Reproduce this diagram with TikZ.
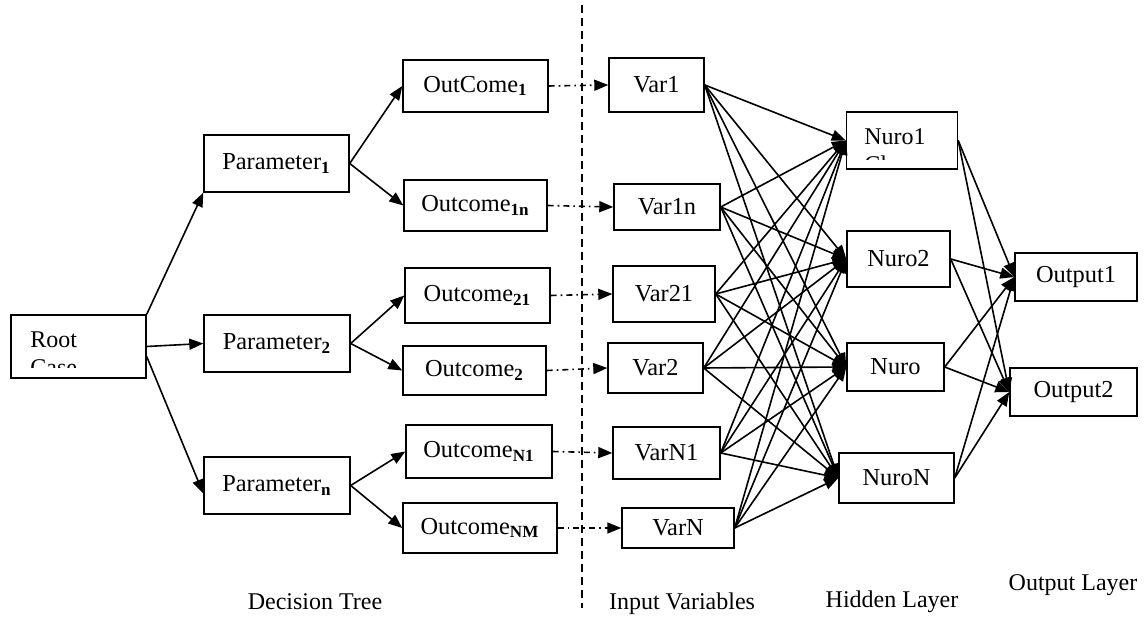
\documentclass[tikz,border=0pt]{standalone}
\usepackage{fontspec}
\setmainfont{Liberation Serif}
\usetikzlibrary{arrows.meta}
\newcommand{\sub}[1]{\textsubscript{\textbf{#1}}}
\tikzset{
  >={Triangle[length=7pt,width=5.5pt]},
  box/.style n args={2}{draw,line width=0.7pt,minimum width=#1*0.5pt,
    minimum height=#2*0.5pt,inner sep=0pt,font=\fontsize{12.2}{14}\selectfont},
  link/.style={->,line width=0.8pt},
  feed/.style={->,line width=0.8pt,dash pattern=on 3pt off 2pt on 0.8pt off 2pt},
  caption/.style={font=\fontsize{12}{14}\selectfont},
}
\begin{document}
\begin{tikzpicture}[x=0.5pt,y=-0.5pt]
  \useasboundingbox (0,0) rectangle (1148,619);
  % decision tree
  \node[box={135}{63}] (root) at (78.5,346.5) {};
  \begin{scope}
    \clip (11,316) rectangle (146,368);
    \node[anchor=north west,inner sep=0pt,align=left,caption] (rootlbl) at (30,331) {Root\\Case};
  \end{scope}
  \foreach \n/\x/\y/\w/\h/\t in {
    P1/276.5/163.5/145/57/{Parameter\sub{1}},
    P2/277/343.5/146/57/{Parameter\sub{2}},
    Pn/277/485.5/146/57/{Parameter\sub{n}},
    O1/475.5/86/145/52/{OutCome\sub{1}},
    O1n/475.5/205.5/143/51/{Outcome\sub{1n}},
    O21/477.5/295.5/145/55/{Outcome\sub{21}},
    O2/474.5/370.5/143/49/{Outcome\sub{2}},
    ON1/479/451.5/146/53/{Outcome\sub{N1}},
    ONM/480/528/154/50/{Outcome\sub{NM}}}
    \node[box={\w}{\h}] (\n) at (\x,\y) {\t};
  % input variables
  \foreach \n/\x/\y/\w/\h/\t in {
    V1/656.5/85/95/54/Var1,
    V1n/667/207/106/46/Var1n,
    V21/664/294/102/56/Var21,
    V2/655.5/368/95/50/Var2,
    VN1/666.5/453/107/52/VarN1,
    VN/678/528/112/40/VarN}
    \node[box={\w}{\h}] (\n) at (\x,\y) {\t};
  % hidden and output layer
  \node[box={111}{57}] (H1) at (902,140.5) {};
  \begin{scope}
    \clip (847,113) rectangle (956,160);
    \node[anchor=north west,inner sep=0pt,align=left,caption] (H1lbl) at (864,128) {Nuro1\\Class};
  \end{scope}
  \foreach \n/\x/\y/\w/\h/\t in {
    H2/898.5/259/103/56/Nuro2,
    H3/895.5/367/97/48/Nuro,
    H4/896.5/478/115/50/NuroN,
    Y1/1076/277/122/48/Output1,
    Y2/1073.5/392/127/48/Output2}
    \node[box={\w}{\h}] (\n) at (\x,\y) {\t};

  \draw[link] (root.north east) -- (P1.south west);
  \draw[link] (root.east) -- (P2.west);
  \draw[link] ([yshift=-5pt]root.east) -- ([yshift=-4pt]Pn.west);
  \draw[link] (P1.east) -- (O1.west);
  \draw[link] (P1.east) -- (O1n.west);
  \draw[link] (P2.east) -- (O21.west);
  \draw[link] (P2.east) -- (O2.west);
  \draw[link] (Pn.east) -- (ON1.west);
  \draw[link] (Pn.east) -- (ONM.west);
  \foreach \a/\b in {O1/V1,O1n/V1n,O21/V21,O2/V2,ON1/VN1,ONM/VN}
    \draw[feed] (\a.east) -- (\b.west);
  \foreach \v in {V1,V1n,V21,V2,VN1,VN}
    \foreach \h in {H1,H2,H3,H4}
      \draw[link] (\v.east) -- (\h.west);
  \foreach \h in {H1,H2,H3,H4}
    \foreach \y in {Y1,Y2}
      \draw[link] (\h.east) -- (\y.west);

  \draw[line width=0.7pt,dash pattern=on 4pt off 2.5pt] (582,5) -- (582,608);
  \node[caption] (lbltree) at (315,602) {Decision Tree};
  \node[caption] (lblin) at (682,604) {Input Variables};
  \node[caption] (lblhid) at (892,602) {Hidden Layer};
  \node[caption] (lblout) at (1073,585) {Output Layer};
\end{tikzpicture}
\end{document}
